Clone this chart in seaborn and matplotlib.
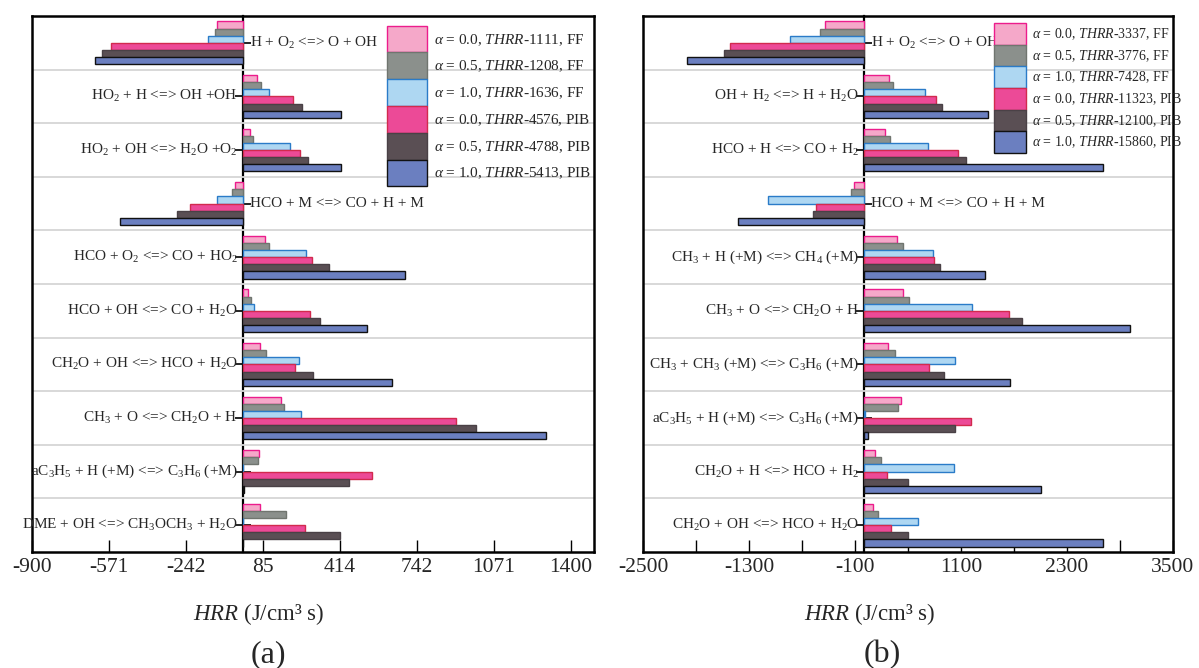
import numpy as np
import pandas as pd
import matplotlib
matplotlib.use("Agg")
import matplotlib.pyplot as plt
import seaborn as sns

# ---------------- data ----------------
reactions_a = [
    'H + O$_2$ <=> O + OH',
    'HO$_2$ + H <=> OH +OH',
    'HO$_2$ + OH <=> H$_2$O +O$_2$',
    'HCO + M <=> CO + H + M',
    'HCO + O$_2$ <=> CO + HO$_2$',
    'HCO + OH <=> CO + H$_2$O',
    'CH$_2$O + OH <=> HCO + H$_2$O',
    'CH$_3$ + O <=> CH$_2$O + H',
    'aC$_3$H$_5$ + H (+M) <=> C$_3$H$_6$ (+M)',
    'DME + OH <=> CH$_3$OCH$_3$ + H$_2$O',
]
a_ff00 = [-111, 61, 30, -34, 97, 24, 74, 162, 71, 74]
a_ff05 = [-120, 78, 43, -47, 114, 36, 98, 177, 63, 185]
a_ff10 = [-150, 110, 201, -111, 269, 50, 241, 249, 0, 0]
a_pib00 = [-564, 215, 245, -226, 296, 288, 221, 909, 550, 266]
a_pib05 = [-602, 255, 279, -282, 369, 330, 298, 997, 453, 416]
a_pib10 = [-632, 420, 420, -526, 695, 531, 638, 1296, 5, 0]
thrr_a = ['1111', '1208', '1636', '4576', '4788', '5413']

reactions_b = [
    'H + O$_2$ <=> O + OH',
    'OH + H$_2$ <=> H + H$_2$O',
    'HCO + H <=> CO + H$_2$',
    'HCO + M <=> CO + H + M',
    'CH$_3$ + H (+M) <=> CH$_4$ (+M)',
    'CH$_3$ + O <=> CH$_2$O + H',
    'CH$_3$ + CH$_3$ (+M) <=> C$_3$H$_6$ (+M)',
    'aC$_3$H$_5$ + H (+M) <=> C$_3$H$_6$ (+M)',
    'CH$_2$O + H <=> HCO + H$_2$',
    'CH$_2$O + OH <=> HCO + H$_2$O',
]
b_ff00 = [-436, 287, 242, -109, 381, 438, 268, 426, 121, 109]
b_ff05 = [-495, 332, 298, -147, 449, 513, 355, 392, 192, 158]
b_ff10 = [-835, 694, 728, -1083, 785, 1219, 1034, 10, 1023, 611]
b_pib00 = [-1518, 819, 1068, -536, 796, 1642, 743, 1208, 257, 306]
b_pib05 = [-1585, 887, 1151, -581, 860, 1789, 906, 1034, 502, 502]
b_pib10 = [-2001, 1411, 2709, -1430, 1377, 3011, 1657, 42, 2004, 2713]
thrr_b = ['3337', '3776', '7428', '11323', '12100', '15860']

alphas = ['0.0', '0.5', '1.0', '0.0', '0.5', '1.0']
fuels = ['FF', 'FF', 'FF', 'PIB', 'PIB', 'PIB']

xticks_a = [-900, -571, -242, 85, 414, 742, 1071, 1400]
xticklabels_a = ['-900', '-571', '-242', '85', '414', '742', '1071', '1400']
xticks_b = [-2500, -1300, -100, 1100, 2300, 3500]
xticklabels_b = ['-2500', '-1300', '-100', '1100', '2300', '3500']

# ---------------- style ----------------
fills = ['#F5A8C9', '#8B908C', '#AED7F2', '#EC4A97', '#5A4F54', '#6B7FC0']
edges = ['#EC1C8C', '#70756F', '#2A7BC8', '#D22A4E', '#4A4146', '#111111']

sns.set_theme(style='white')
plt.rcParams['font.family'] = ['Liberation Serif', 'DejaVu Serif']
plt.rcParams['mathtext.fontset'] = 'custom'
plt.rcParams['mathtext.rm'] = 'Liberation Serif'
plt.rcParams['mathtext.it'] = 'Liberation Serif:italic'
plt.rcParams['mathtext.bf'] = 'Liberation Serif:bold'

fig = plt.figure(figsize=(11.99, 6.68), dpi=100)
ax_a = fig.add_axes([32 / 1199, 1 - 552 / 668, 562 / 1199, 536 / 668])
ax_b = fig.add_axes([643 / 1199, 1 - 552 / 668, 530 / 1199, 536 / 668])

keys = ['s0', 's1', 's2', 's3', 's4', 's5']


def draw(ax, reactions, series, thrr, xlim, xticks, xticklabels, minor, leg_anchor, leg_fs,
         hl, hh, label_x):
    rows = []
    for k, vals in zip(keys, series):
        for r, v in zip(reactions, vals):
            rows.append({'reaction': r, 'HRR': v, 'series': k})
    df = pd.DataFrame(rows)
    sns.barplot(data=df, x='HRR', y='reaction', hue='series', hue_order=keys,
                order=reactions, orient='h', palette=dict(zip(keys, fills)),
                width=0.8, dodge=True, legend=False, ax=ax, saturation=1,
                errorbar=None)
    for cont, ec in zip(ax.containers, edges):
        for p in cont:
            p.set_edgecolor(ec)
            p.set_linewidth(1.0)
            p.set_zorder(2)
    ax.set_xlim(*xlim)
    ax.set_ylim(len(reactions) - 0.5, -0.5)
    # category separators
    for b in np.arange(0.5, len(reactions) - 0.5, 1):
        ax.axhline(b, color='#d6d6d6', lw=1.3, zorder=0.5)
    # category axis at zero
    x0 = (0 - xlim[0]) / (xlim[1] - xlim[0])
    sec = ax.secondary_yaxis(x0)
    sec.set_yticks(range(len(reactions)))
    sec.set_yticklabels([''] * len(reactions))
    sec.tick_params(axis='y', direction='inout', length=12, width=1.2, color='black')
    sec.spines['left'].set_linewidth(1.6)
    sec.spines['left'].set_color('black')
    # reaction labels
    for i, r in enumerate(reactions):
        neg = max(s[i] for s in series) <= 0
        if neg:
            ax.annotate(r, xy=(0, i), xytext=(5.5, 0), textcoords='offset points',
                        ha='left', va='center', fontsize=11, zorder=5)
        else:
            ax.annotate(r, xy=(0, i), xytext=(-3.5, 0), textcoords='offset points',
                        ha='right', va='center', fontsize=11, zorder=5)
    ax.set_yticks([])
    ax.set_ylabel('')
    ax.set_xticks(xticks)
    ax.set_xticklabels(xticklabels, fontsize=15.5)
    if minor is not None:
        ax.set_xticks(minor, minor=True)
    ax.tick_params(axis='x', which='both', direction='in', length=9, width=1.0,
                   color='black', pad=4, bottom=True, top=False)
    for sp in ax.spines.values():
        sp.set_visible(True)
        sp.set_color('black')
        sp.set_linewidth(1.8)
    ax.set_xlabel(r'$\mathit{HRR}$ (J/cm³ s)', fontsize=16.5)
    ax.xaxis.set_label_coords(label_x, -0.092)
    labels = [rf'$\alpha$ = {a}, $\mathit{{THRR}}$-{t}, {f}' for a, t, f in zip(alphas, thrr, fuels)]
    ax.legend(handles=list(ax.containers), labels=labels, loc='upper left',
              bbox_to_anchor=leg_anchor, frameon=False, fontsize=leg_fs,
              handlelength=hl, handleheight=hh, labelspacing=0.0,
              handletextpad=0.45, borderpad=0, borderaxespad=0)
    ax.set_facecolor('white')


draw(ax_a, reactions_a, [a_ff00, a_ff05, a_ff10, a_pib00, a_pib05, a_pib10], thrr_a,
     (-900, 1500), xticks_a, xticklabels_a, None, (0.632, 0.982), 11, 2.6, 2.32, 0.404)
draw(ax_b, reactions_b, [b_ff00, b_ff05, b_ff10, b_pib00, b_pib05, b_pib10], thrr_b,
     (-2500, 3500), xticks_b, xticklabels_b, [-1900, -700, 500, 1700, 2900],
     (0.662, 0.987), 10, 2.3, 2.02, 0.428)

fig.text(268 / 1199, 0.02, '(a)', ha='center', va='center', fontsize=23)
fig.text(882 / 1199, 0.02, '(b)', ha='center', va='center', fontsize=23)

fig.savefig('out.png', dpi=100, facecolor='white')
